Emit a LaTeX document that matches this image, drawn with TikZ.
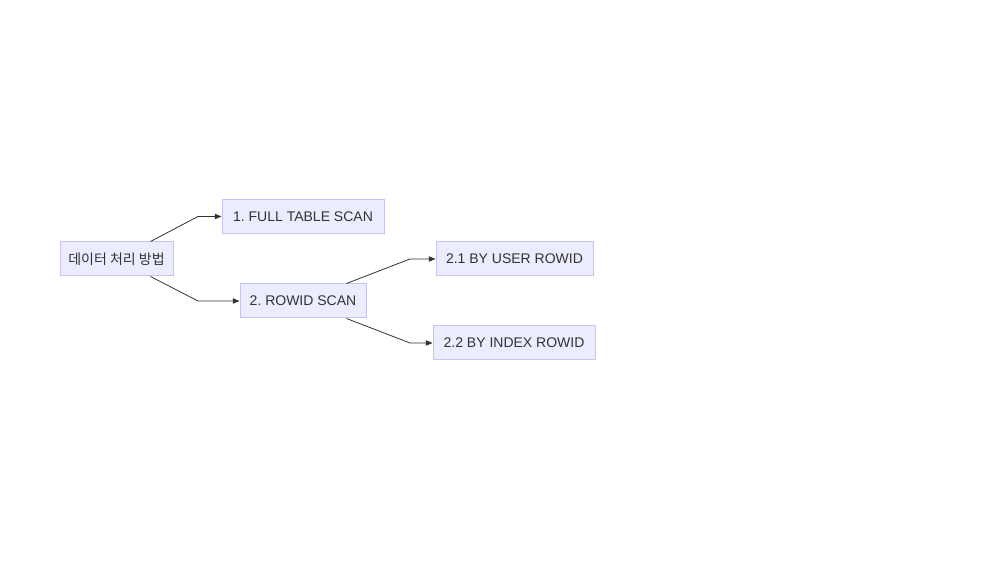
\documentclass[tikz,border=0pt]{standalone}
\usepackage{fontspec}
\setmainfont{Liberation Sans}
\newfontfamily\krfont{Noto Sans CJK KR}
\usetikzlibrary{arrows.meta}
\definecolor{boxfill}{HTML}{ECECFF}
\definecolor{boxline}{HTML}{C6C3F2}
\definecolor{edgecol}{HTML}{333333}
\definecolor{textcol}{HTML}{333333}
\frenchspacing
\tikzset{
  box/.style={draw=boxline, fill=boxfill, line width=0.75pt, rectangle, inner sep=0pt,
    minimum height=25.5pt, text=textcol, font=\fontsize{10.5}{12}\selectfont},
  edge/.style={draw=edgecol, line width=0.6pt, -{Triangle[length=5pt,width=4pt]}}
}
\begin{document}
\begin{tikzpicture}[x=0.75pt,y=-0.75pt]
\useasboundingbox[fill=white] (0,0) rectangle (1000,580);
\node[box, minimum width=84.75pt] (root) at (116.5,259) {\krfont 데이터 처리 방법};
\node[box, minimum width=121.5pt, minimum height=26pt] (full) at (303,216.5) {1. FULL TABLE SCAN};
\node[box, minimum width=94.5pt] (rowid) at (303,301) {2. ROWID SCAN};
\node[box, minimum width=117.75pt] (user) at (514.5,259) {2.1 BY USER ROWID};
\node[box, minimum width=121.5pt] (index) at (514,343) {2.2 BY INDEX ROWID};
\coordinate (b1) at (198,216.5);
\coordinate (b2) at (198,301);
\coordinate (b3) at (410,259);
\coordinate (b4) at (410,343);
\draw[edge] ([xshift=-17.25pt]root.north east) -- (b1) -- (full.west);
\draw[edge] ([xshift=-17.25pt]root.south east) -- (b2) -- (rowid.west);
\draw[edge] ([xshift=-15pt]rowid.north east) -- (b3) -- (user.west);
\draw[edge] ([xshift=-15pt]rowid.south east) -- (b4) -- (index.west);
\end{tikzpicture}
\end{document}
